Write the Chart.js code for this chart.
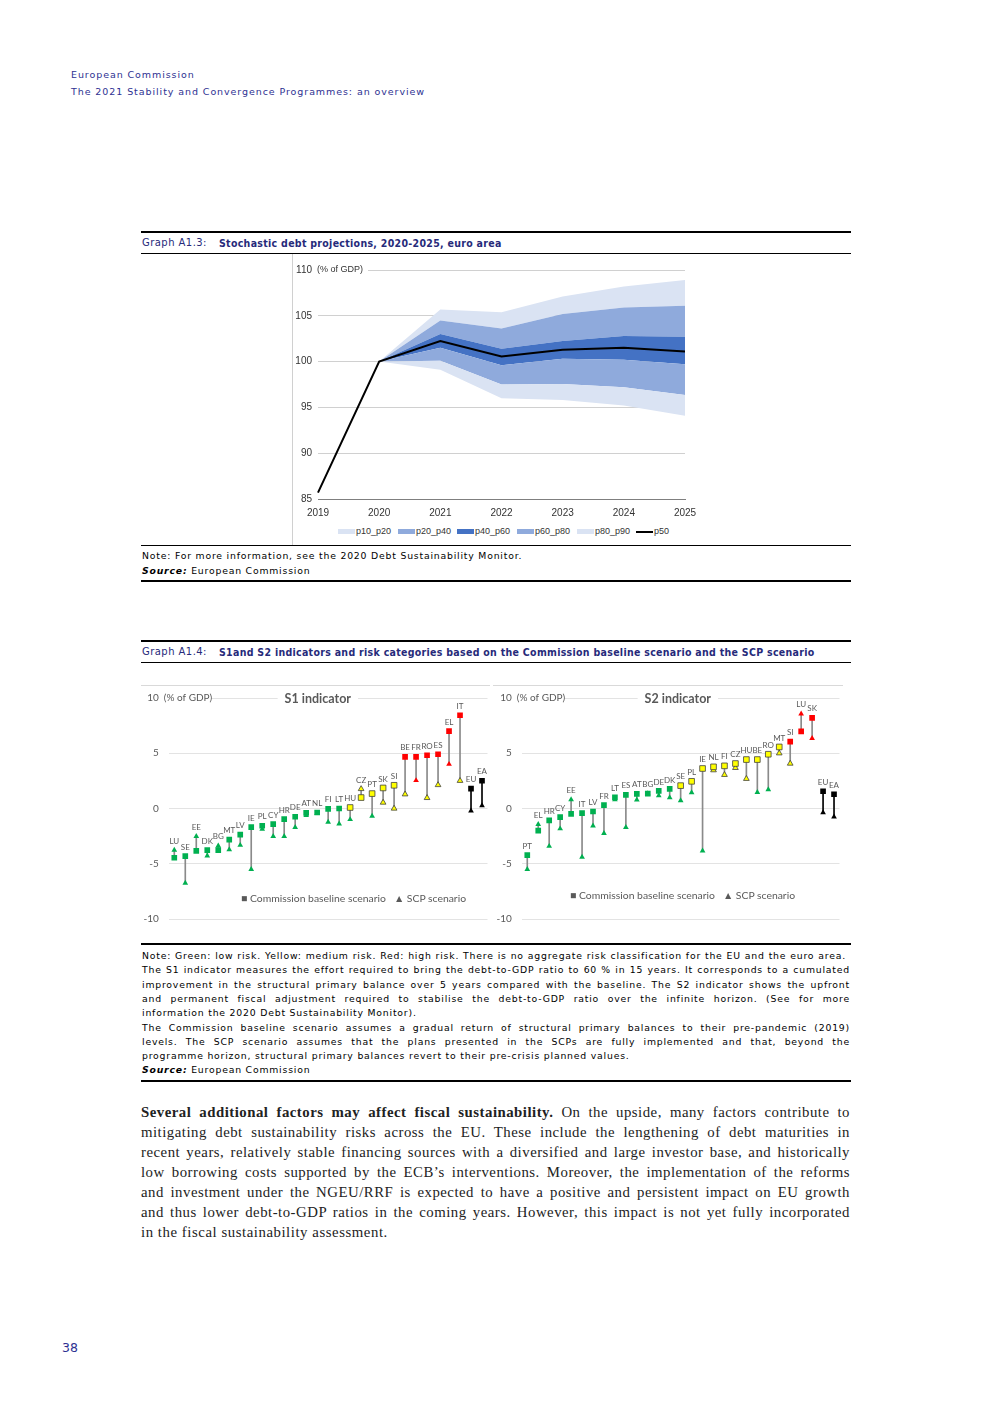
<!DOCTYPE html>
<html>
<head>
<meta charset="utf-8">
<script src="https://cdn.jsdelivr.net/npm/chart.js@4.4.0/dist/chart.umd.min.js"></script>
<style>
body{margin:0;background:#fff;}
#page{position:relative;width:992px;height:1403px;overflow:hidden;font-family:"DejaVu Sans",sans-serif;}
.a{position:absolute;}
.hdr{left:71px;font-size:9.5px;color:#2e3192;letter-spacing:0.92px;line-height:12px;white-space:nowrap;}
.rule{position:absolute;left:141px;width:710px;background:#000;}
.gt{left:142px;font-size:10px;color:#262a7a;line-height:12px;white-space:nowrap;letter-spacing:0.45px;}
.gt b{position:absolute;left:77px;top:0;font-family:"DejaVu Sans Condensed","DejaVu Sans",sans-serif;font-size:10.5px;font-weight:bold;letter-spacing:0.3px;}
.nt{left:142px;font-size:9.3px;line-height:12px;color:#000;white-space:nowrap;letter-spacing:0.8px;}
.bd{left:141px;font-family:"Liberation Serif",serif;font-size:14.8px;line-height:20px;color:#222;white-space:nowrap;letter-spacing:0.5px;}
.lg{font-family:Arial,"Liberation Sans",sans-serif;font-size:9px;color:#333;white-space:nowrap;}
.lg span{position:absolute;top:0;}
.sw{display:inline-block;width:17px;height:5px;vertical-align:middle;margin-right:1px;}
.lg2{font-family:Lato,sans-serif;font-size:10.4px;color:#595959;white-space:nowrap;line-height:12px;}
</style>
</head>
<body>
<div id="page">
  <div class="a hdr" style="top:69px">European Commission</div>
  <div class="a hdr" style="top:86px">The 2021 Stability and Convergence Programmes: an overview</div>

  <!-- Graph A1.3 -->
  <div class="rule" style="top:231px;height:2px"></div>
  <div class="a gt" style="top:237px">Graph A1.3:<b>Stochastic debt projections, 2020-2025, euro area</b></div>
  <div class="rule" style="top:253px;height:1px"></div>
  <div class="a" style="left:292px;top:254px;width:1px;height:291px;background:#d0d0d0"></div>
  <div class="a" style="left:290px;top:258px;width:410px;height:265px"><canvas id="fan"></canvas></div>
  <div class="a lg" style="left:0;top:526px;width:992px;height:12px">
    <span style="left:338px"><i class="sw" style="background:#dae3f3"></i>p10_p20</span>
    <span style="left:398px"><i class="sw" style="background:#8faadc"></i>p20_p40</span>
    <span style="left:457px"><i class="sw" style="background:#4472c4"></i>p40_p60</span>
    <span style="left:517px"><i class="sw" style="background:#8faadc"></i>p60_p80</span>
    <span style="left:577px"><i class="sw" style="background:#dae3f3"></i>p80_p90</span>
    <span style="left:636px"><i class="sw" style="background:#000;height:2px"></i>p50</span>
  </div>
  <div class="rule" style="top:545px;height:1px"></div>
  <div class="a nt" style="top:550px">Note: For more information, see the 2020 Debt Sustainability Monitor.</div>
  <div class="a nt" style="top:565px"><b><i>Source:</i></b> European Commission</div>
  <div class="rule" style="top:580px;height:2px"></div>

  <!-- Graph A1.4 -->
  <div class="rule" style="top:640px;height:2px"></div>
  <div class="a gt" style="top:646px">Graph A1.4:<b>S1and S2 indicators and risk categories based on the Commission baseline scenario and the SCP scenario</b></div>
  <div class="rule" style="top:662px;height:1px"></div>
  <div class="a" style="left:141px;top:685px;width:349px;height:1px;background:#d9d9d9"></div>
  <div class="a" style="left:493px;top:685px;width:350px;height:1px;background:#d9d9d9"></div>
  <div class="a" style="left:141px;top:682px;width:352px;height:253px"><canvas id="s1"></canvas></div>
  <div class="a" style="left:493px;top:682px;width:352px;height:253px"><canvas id="s2"></canvas></div>
  <div class="a lg2" style="left:241px;top:892px">&#9632; Commission baseline scenario &nbsp;&nbsp;&#9650; SCP scenario</div>
  <div class="a lg2" style="left:570px;top:889px">&#9632; Commission baseline scenario &nbsp;&nbsp;&#9650; SCP scenario</div>

  <div class="rule" style="top:943px;height:2px"></div>
  <div class="a nt fit" data-w="704" style="top:950px">Note: Green: low risk. Yellow: medium risk. Red: high risk. There is no aggregate risk classification for the EU and the euro area.</div>
  <div class="a nt fit" data-w="708" style="top:964px">The S1 indicator measures the effort required to bring the debt-to-GDP ratio to 60 % in 15 years. It corresponds to a cumulated</div>
  <div class="a nt fit" data-w="708" style="top:979px">improvement in the structural primary balance over 5 years compared with the baseline. The S2 indicator shows the upfront</div>
  <div class="a nt fit" data-w="708" style="top:993px">and permanent fiscal adjustment required to stabilise the debt-to-GDP ratio over the infinite horizon. (See for more</div>
  <div class="a nt" style="top:1007px">information the 2020 Debt Sustainability Monitor).</div>
  <div class="a nt fit" data-w="708" style="top:1022px">The Commission baseline scenario assumes a gradual return of structural primary balances to their pre-pandemic (2019)</div>
  <div class="a nt fit" data-w="708" style="top:1036px">levels. The SCP scenario assumes that the plans presented in the SCPs are fully implemented and that, beyond the</div>
  <div class="a nt" style="top:1050px">programme horizon, structural primary balances revert to their pre-crisis planned values.</div>
  <div class="a nt" style="top:1064px"><b><i>Source:</i></b> European Commission</div>
  <div class="rule" style="top:1080px;height:2px"></div>

  <div class="a bd fit" data-w="709" style="top:1102px"><b>Several additional factors may affect fiscal sustainability.</b> On the upside, many factors contribute to</div>
  <div class="a bd fit" data-w="709" style="top:1122px">mitigating debt sustainability risks across the EU. These include the lengthening of debt maturities in</div>
  <div class="a bd fit" data-w="709" style="top:1142px">recent years, relatively stable financing sources with a diversified and large investor base, and historically</div>
  <div class="a bd fit" data-w="709" style="top:1162px">low borrowing costs supported by the ECB’s interventions. Moreover, the implementation of the reforms</div>
  <div class="a bd fit" data-w="709" style="top:1182px">and investment under the NGEU/RRF is expected to have a positive and persistent impact on EU growth</div>
  <div class="a bd fit" data-w="709" style="top:1202px">and thus lower debt-to-GDP ratios in the coming years. However, this impact is not yet fully incorporated</div>
  <div class="a bd" style="top:1222px;letter-spacing:0.55px">in the fiscal sustainability assessment.</div>

  <div class="a" style="left:62px;top:1340px;font-size:12.5px;color:#2e3192">38</div>
</div>

<script>
// Graph A1.3 - fan chart
const years = ['2019','2020','2021','2022','2023','2024','2025'];
const p10 = [null, 100, 99.1, 96.0, 95.8, 95.2, 94.1];
const p20 = [null, 100, 100.1, 97.5, 97.55, 97.2, 96.35];
const p40 = [null, 100, 101.5, 99.6, 100.3, 100.2, 99.7];
const p60 = [null, 100, 103.0, 101.4, 102.25, 102.8, 102.7];
const p80 = [null, 100, 104.5, 103.6, 105.2, 105.9, 106.1];
const p90 = [null, 100, 105.7, 105.4, 107.1, 108.2, 108.9];
const p50 = [85.7, 100, 102.25, 100.55, 101.3, 101.5, 101.1];

// Graph A1.4 - S1 indicator
const s1Countries = ['LU','SE','EE','DK','BG','MT','LV','IE','PL','CY','HR','DE','AT','NL','FI','LT','HU','CZ','PT','SK','SI','BE','FR','RO','ES','EL','IT','EU','EA'];
const s1Base = [-4.46,-4.31,-3.83,-3.77,-3.77,-2.81,-2.37,-1.68,-1.56,-1.41,-0.96,-0.75,-0.39,-0.36,-0.03,0.0,0.09,0.99,1.35,1.86,2.1,4.67,4.67,4.82,4.91,7.0,8.44,1.8,2.51];
const s1Scp  = [-3.77,-6.74,-2.51,-4.28,-3.38,-3.71,-3.32,-5.51,-1.86,-2.51,-2.51,-1.71,-0.63,-0.45,-1.23,-1.38,-0.99,1.77,-0.69,0.54,0.0,1.29,2.54,0.96,2.13,4.01,2.51,-0.21,0.27];
const s1BaseRisk = ['L','L','L','L','L','L','L','L','L','L','L','L','L','L','L','L','M','M','M','M','M','H','H','H','H','H','H','N','N'];
const s1ScpRisk  = ['L','L','L','L','L','L','L','L','L','L','L','L','L','L','L','L','L','M','L','M','M','M','H','M','M','H','M','N','N'];

// S2 indicator
const s2Countries = ['PT','EL','HR','CY','EE','IT','LV','FR','LT','ES','AT','BG','DE','DK','SE','PL','IE','NL','FI','CZ','HU','BE','RO','MT','SI','LU','SK','EU','EA'];
const s2Base = [-4.22,-2.0,-1.08,-0.78,-0.48,-0.42,-0.27,0.3,1.02,1.23,1.32,1.35,1.59,1.77,2.07,2.46,3.62,3.77,3.86,4.07,4.43,4.43,4.91,5.57,6.05,6.98,8.2,1.56,1.29];
const s2Scp  = [-5.51,-1.44,-3.41,-1.83,0.81,-4.4,-1.56,-2.25,0.81,-1.71,0.78,1.35,1.17,0.99,0.72,1.44,-3.83,3.47,3.05,3.68,2.69,1.47,1.71,5.0,4.07,8.56,6.35,-0.36,-0.75];
const s2BaseRisk = ['L','L','L','L','L','L','L','L','L','L','L','L','L','L','M','M','M','M','M','M','M','M','M','M','H','H','H','N','N'];
const s2ScpRisk  = ['L','L','L','L','L','L','L','L','L','L','L','L','L','L','L','L','L','M','M','M','M','L','L','M','M','H','H','N','N'];

const riskColor = {L:'#00b050', M:'#ffff00', H:'#ff0000', N:'#000000'};

// stretch justified text lines to their column width
document.querySelectorAll('.fit').forEach(el=>{
  const target = +el.dataset.w;
  const w0 = el.getBoundingClientRect().width;
  const spaces = (el.textContent.match(/ /g)||[]).length;
  const extra = target - w0;
  if (extra > 0) el.style.wordSpacing = (extra / spaces) + 'px';
  else {
    const ls = parseFloat(getComputedStyle(el).letterSpacing) || 0;
    el.style.letterSpacing = (ls + extra / el.textContent.length) + 'px';
  }
});

Chart.defaults.animation = false;
Chart.defaults.responsive = true;
Chart.defaults.maintainAspectRatio = false;

// fan chart
const gdpLabel = {
  id:'gdpLabel',
  afterDraw(chart){
    const ctx = chart.ctx, y = chart.scales.y.getPixelForValue(110);
    ctx.save();
    ctx.fillStyle = '#fff';
    ctx.fillRect(chart.chartArea.left - 2, y - 6, 52, 12);
    ctx.fillStyle = '#333';
    ctx.font = '9px Arial, "Liberation Sans"';
    ctx.textBaseline = 'middle';
    ctx.fillText('(% of GDP)', chart.chartArea.left - 1, y);
    ctx.restore();
  }
};

function band(data, color){
  return {data:data, fill:'-1', backgroundColor:color, borderWidth:0, pointRadius:0};
}

new Chart(document.getElementById('fan'), {
  type:'line',
  data:{labels:years, datasets:[
    {data:p10, fill:false, borderWidth:0, pointRadius:0},
    band(p20,'#dae3f3'),
    band(p40,'#8faadc'),
    band(p60,'#4472c4'),
    band(p80,'#8faadc'),
    band(p90,'#dae3f3'),
    {data:p50, fill:false, borderColor:'#000', borderWidth:2, pointRadius:0, tension:0, order:-1}
  ]},
  options:{
    layout:{padding:{top:12, right:15, left:0, bottom:0}},
    plugins:{legend:{display:false}, tooltip:{enabled:false}},
    scales:{
      x:{offset:false, grid:{display:false}, border:{display:true, color:'#7f7f7f'},
         ticks:{color:'#333', font:{size:10, family:'Arial'}, padding:0, maxRotation:0},
         afterFit(s){ s.height = 24; }},
      y:{min:85, max:110, ticks:{stepSize:5, color:'#333', font:{size:10, family:'Arial'}, padding:6},
         grid:{color:'#d0d0d0', drawTicks:false}, border:{display:false},
         afterFit(s){ s.width = 28; }}
    }
  },
  plugins:[gdpLabel]
});

// S1 / S2 charts
function indicatorChart(id, title, countries, base, scp, baseRisk, scpRisk, padL, titleX){
  const overlay = {
    id:'overlay',
    afterDatasetsDraw(chart){
      const ctx = chart.ctx, xs = chart.scales.x, ys = chart.scales.y;
      ctx.save();
      ctx.font = '8px Lato';
      ctx.fillStyle = '#595959';
      ctx.textAlign = 'center';
      ctx.textBaseline = 'middle';
      countries.forEach((c,i)=>{
        const top = Math.max(base[i], scp[i]);
        ctx.fillText(c, xs.getPixelForValue(i), ys.getPixelForValue(top) - 9);
      });
      const y10 = ys.getPixelForValue(10);
      ctx.fillStyle = '#fff';
      ctx.fillRect(chart.chartArea.left - 6, y10 - 6, 48, 12);
      ctx.font = '10px Lato';
      ctx.textAlign = 'left';
      ctx.fillStyle = '#595959';
      ctx.fillText('(% of GDP)', chart.chartArea.left - 5, y10);
      ctx.font = 'bold 12.5px Lato';
      const tw = ctx.measureText(title).width;
      const cx = chart.chartArea.left + titleX;
      ctx.fillStyle = '#fff';
      ctx.fillRect(cx - tw/2 - 7, y10 - 7, tw + 14, 14);
      ctx.fillStyle = '#595959';
      ctx.textAlign = 'center';
      ctx.fillText(title, cx, y10 + 1);
      ctx.restore();
    }
  };
  const border = r => r === 'M' ? '#404040' : riskColor[r];
  new Chart(document.getElementById(id), {
    type:'bar',
    data:{labels:countries, datasets:[
      {type:'bar', data:countries.map((c,i)=>[scp[i], base[i]]), barThickness:1,
       backgroundColor:baseRisk.map(r => r === 'N' ? '#000' : '#8a8a8a'), order:3},
      {type:'line', data:scp, showLine:false, pointStyle:'triangle', pointRadius:3.3,
       pointBackgroundColor:scpRisk.map(r=>riskColor[r]), pointBorderColor:scpRisk.map(border),
       pointBorderWidth:scpRisk.map(r => r === 'M' ? 0.8 : 0), order:2},
      {type:'line', data:base, showLine:false, pointStyle:'rect', pointRadius:4,
       pointBackgroundColor:baseRisk.map(r=>riskColor[r]), pointBorderColor:baseRisk.map(border),
       pointBorderWidth:baseRisk.map(r => r === 'M' ? 0.8 : 0), order:1}
    ]},
    options:{
      layout:{padding:{top:0, right:5.5, left:0, bottom:0}},
      plugins:{legend:{display:false}, tooltip:{enabled:false}},
      scales:{
        x:{display:false, offset:true},
        y:{min:-10, max:10, ticks:{stepSize:5, color:'#595959', font:{size:10, family:'Lato'}, padding:10},
           grid:{color:'#e3e3e3', drawTicks:false}, border:{display:false},
           afterFit(s){ s.width = padL; }}
      }
    },
    plugins:[overlay]
  });
}

indicatorChart('s1', 'S1 indicator', s1Countries, s1Base, s1Scp, s1BaseRisk, s1ScpRisk, 27.8, 149);
indicatorChart('s2', 'S2 indicator', s2Countries, s2Base, s2Scp, s2BaseRisk, s2ScpRisk, 28.8, 156);
</script>
</body>
</html>
